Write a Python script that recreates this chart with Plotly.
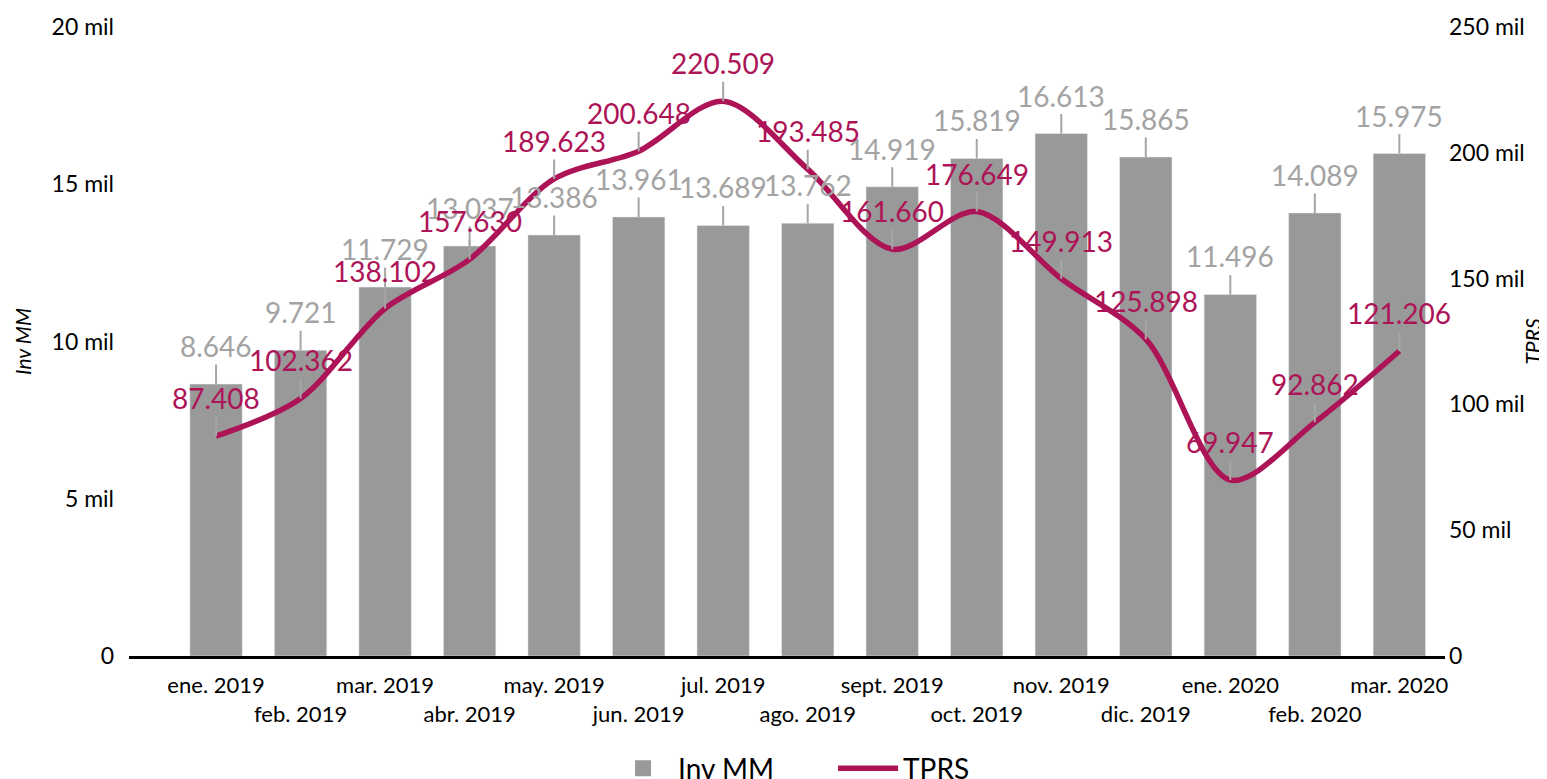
import plotly.graph_objects as go

categories = ["ene. 2019", "feb. 2019", "mar. 2019", "abr. 2019", "may. 2019", "jun. 2019",
              "jul. 2019", "ago. 2019", "sept. 2019", "oct. 2019", "nov. 2019", "dic. 2019",
              "ene. 2020", "feb. 2020", "mar. 2020"]
inv_mm = [8646, 9721, 11729, 13037, 13386, 13961, 13689, 13762, 14919, 15819, 16613, 15865,
          11496, 14089, 15975]
tprs = [87408, 102362, 138102, 157630, 189623, 200648, 220509, 193485, 161660, 176649, 149913,
        125898, 69947, 92862, 121206]

left_tickvals = [0, 5000, 10000, 15000, 20000]
left_ticktext = ["0", "5 mil", "10 mil", "15 mil", "20 mil"]
right_tickvals = [0, 50000, 100000, 150000, 200000, 250000]
right_ticktext = ["0", "50 mil", "100 mil", "150 mil", "200 mil", "250 mil"]

BAR = "#999999"
LABEL_GRAY = "#A3A3A3"
CRIMSON = "#AD1457"
FONT = "Lato, 'Open Sans', sans-serif"


def fmt(v):
    return f"{v:,}".replace(",", ".")


xpos = list(range(len(categories)))
# staggered category labels (two rows, alternating)
xticktext = [c if i % 2 == 0 else "<br>" + c for i, c in enumerate(categories)]

fig = go.Figure()
fig.add_trace(go.Bar(x=xpos, y=inv_mm, name="Inv MM", marker_color=BAR,
                     width=0.62, yaxis="y", showlegend=False, legendgroup="inv"))
# legend entry for the bars (large square swatch, as in the reference)
fig.add_trace(go.Scatter(x=[None], y=[None], name="Inv MM", mode="markers", legendgroup="inv",
                         marker=dict(symbol="square", size=30, color=BAR)))
fig.add_trace(go.Scatter(x=xpos, y=tprs, name="TPRS", mode="lines", yaxis="y2",
                         line=dict(color=CRIMSON, width=5.5, shape="spline", smoothing=0.9)))

annotations = []
for i, v in enumerate(inv_mm):
    annotations.append(dict(x=i, y=v, xref="x", yref="y", text=fmt(v), showarrow=True,
                            arrowhead=0, arrowwidth=2, arrowcolor="#A6A6A6", ax=0, ay=-38,
                            font=dict(family=FONT, size=28, color=LABEL_GRAY), standoff=0))
for i, v in enumerate(tprs):
    annotations.append(dict(x=i, y=v, xref="x", yref="y2", text=fmt(v), showarrow=True,
                            arrowhead=0, arrowwidth=2, arrowcolor="#A6A6A6", ax=0, ay=-38,
                            font=dict(family=FONT, size=28, color=CRIMSON), standoff=0))

fig.update_layout(
    width=1547, height=779,
    margin=dict(l=121, r=110, t=19, b=131, autoexpand=False),
    paper_bgcolor="white", plot_bgcolor="white",
    font=dict(family=FONT, color="black"),
    showlegend=True,
    legend=dict(orientation="h", x=0.535, xanchor="center", y=-0.139, yanchor="top",
                font=dict(family=FONT, size=28, color="black"), itemwidth=60,
                itemsizing="trace", traceorder="normal", entrywidth=150,
                entrywidthmode="pixels"),
    xaxis=dict(tickmode="array", tickvals=xpos, ticktext=xticktext, range=[-1.03, 14.54],
               showline=True, linecolor="black", linewidth=3, ticks="", showgrid=False,
               zeroline=False, tickfont=dict(family=FONT, size=22, color="black"),
               tickangle=0, ticklabelstandoff=8, automargin=False),
    yaxis=dict(range=[0, 20000], tickmode="array", tickvals=left_tickvals,
               ticktext=left_ticktext, showgrid=False, zeroline=False, showline=False,
               ticks="", ticklabelstandoff=14, automargin=False,
               tickfont=dict(family=FONT, size=23, color="black"),
               title=dict(text="<i>Inv MM</i>", font=dict(family=FONT, size=21, color="black"),
                          standoff=14)),
    yaxis2=dict(range=[0, 250000], overlaying="y", side="right", tickmode="array",
                tickvals=right_tickvals, ticktext=right_ticktext, showgrid=False,
                zeroline=False, showline=False, ticks="", ticklabelstandoff=3, automargin=False,
                tickfont=dict(family=FONT, size=23, color="black"),
                title=dict(text="<i>TPRS</i>", font=dict(family=FONT, size=21, color="black"),
                           standoff=2)),
    annotations=annotations,
)

fig.write_html("out.html")
